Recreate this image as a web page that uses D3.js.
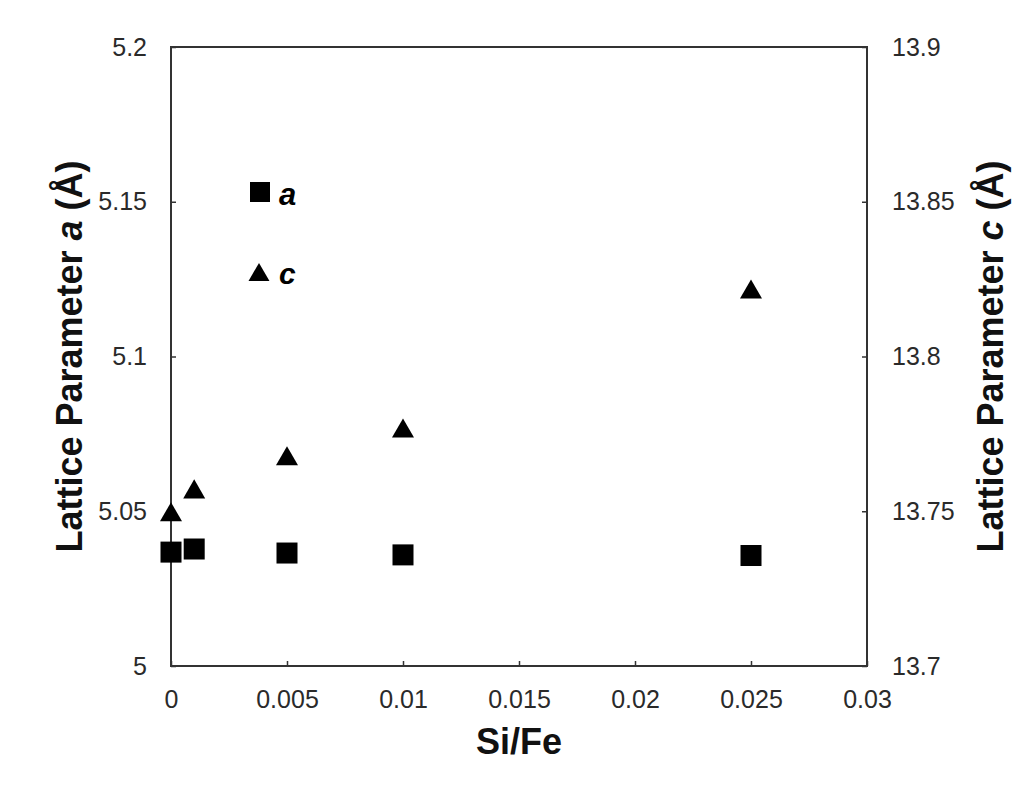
<!DOCTYPE html>
<html><head><meta charset="utf-8">
<script src="https://cdn.jsdelivr.net/npm/d3@7"></script>
<style>body{margin:0;background:#fff;}svg{display:block;}</style>
</head><body>
<svg id="c" width="1018" height="787"></svg>
<script>
const siFe = [0, 0.001, 0.005, 0.01, 0.025];
const latticeA = [5.0368, 5.0378, 5.0365, 5.0359, 5.0357];
const latticeC = [13.7488, 13.7562, 13.7669, 13.7759, 13.8208];
const xTicks = [0, 0.005, 0.01, 0.015, 0.02, 0.025, 0.03];
const yLeftTicks = [5, 5.05, 5.1, 5.15, 5.2];
const yRightTicks = [13.7, 13.75, 13.8, 13.85, 13.9];

const svg = d3.select("#c");
const L = 171, R = 867, T = 47, B = 666;
const x = d3.scaleLinear().domain([0, 0.03]).range([L, R]);
const yA = d3.scaleLinear().domain([5, 5.2]).range([B, T]);
const yC = d3.scaleLinear().domain([13.7, 13.9]).range([B, T]);
const font = "Arial, 'Liberation Sans', sans-serif";
const axisCol = "#333";

function style(g){
  g.select(".domain").remove();
  g.selectAll("line").attr("stroke", axisCol).attr("stroke-width", 1.5);
  g.selectAll("text").attr("font-family", font).attr("font-size", 25).attr("fill", "#2a2a2a");
}
svg.append("g").attr("transform", `translate(0,${B})`)
  .call(d3.axisBottom(x).tickValues(xTicks).tickFormat(d => d === 0 ? "0" : String(+d.toFixed(3))).tickSizeInner(-5).tickSizeOuter(0).tickPadding(24))
  .call(style);
svg.append("g").attr("transform", `translate(${L},0)`)
  .call(d3.axisLeft(yA).tickValues(yLeftTicks).tickFormat(d => String(+d.toFixed(2))).tickSizeInner(-5).tickSizeOuter(0).tickPadding(24))
  .call(style);
svg.append("g").attr("transform", `translate(${R},0)`)
  .call(d3.axisRight(yC).tickValues(yRightTicks).tickFormat(d => String(+d.toFixed(2))).tickSizeInner(-5).tickSizeOuter(0).tickPadding(25))
  .call(style);

svg.append("rect").attr("x", L).attr("y", T).attr("width", R - L).attr("height", B - T)
  .attr("fill", "none").attr("stroke", axisCol).attr("stroke-width", 2);

const sq = 21;
svg.append("g").selectAll("rect").data(siFe).join("rect")
  .attr("x", d => x(d) - sq/2).attr("y", (d,i) => yA(latticeA[i]) - sq/2)
  .attr("width", sq).attr("height", sq).attr("fill", "#000");

const tri = d3.symbol().type(d3.symbolTriangle).size(210);
svg.append("g").selectAll("path").data(siFe).join("path")
  .attr("d", tri).attr("fill", "#000")
  .attr("transform", (d,i) => `translate(${x(d)},${yC(latticeC[i])})`);

// legend
svg.append("rect").attr("x", 260 - 10).attr("y", 192 - 10).attr("width", 20).attr("height", 20).attr("fill", "#000");
svg.append("path").attr("d", d3.symbol().type(d3.symbolTriangle).size(190)).attr("fill", "#000")
  .attr("transform", "translate(259,275)");
svg.append("text").attr("x", 279).attr("y", 205).attr("font-family", font).attr("font-size", 31)
  .attr("font-weight", "bold").attr("font-style", "italic").text("a");
svg.append("text").attr("x", 279).attr("y", 284).attr("font-family", font).attr("font-size", 30)
  .attr("font-weight", "bold").attr("font-style", "italic").text("c");

// axis titles
svg.append("text").attr("x", (L + R) / 2).attr("y", 754).attr("text-anchor", "middle")
  .attr("font-family", font).attr("font-size", 36).attr("font-weight", "bold").attr("fill", "#111").text("Si/Fe");
const lt = svg.append("text").attr("transform", `translate(82,${(T + B) / 2}) rotate(-90)`).attr("text-anchor", "middle")
  .attr("font-family", font).attr("font-size", 36).attr("font-weight", "bold").attr("fill", "#111");
lt.append("tspan").text("Lattice Parameter ");
lt.append("tspan").attr("font-style", "italic").text("a");
lt.append("tspan").text(" (Å)");
const rt = svg.append("text").attr("transform", `translate(1003,${(T + B) / 2}) rotate(-90)`).attr("text-anchor", "middle")
  .attr("font-family", font).attr("font-size", 36).attr("font-weight", "bold").attr("fill", "#111");
rt.append("tspan").text("Lattice Parameter ");
rt.append("tspan").attr("font-style", "italic").text("c");
rt.append("tspan").text(" (Å)");
</script>
</body></html>
